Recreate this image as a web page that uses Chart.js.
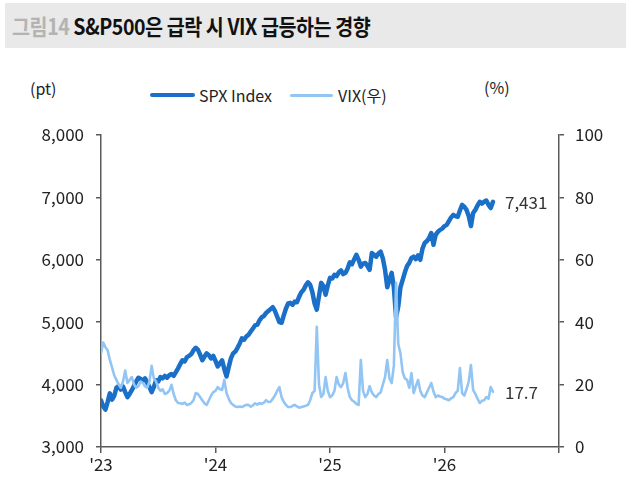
<!DOCTYPE html>
<html>
<head>
<meta charset="utf-8">
<script src="https://cdn.jsdelivr.net/npm/chart.js@4"></script>
<style>
  html, body { margin: 0; padding: 0; background: #fff; }
  body { width: 626px; height: 495px; position: relative; overflow: hidden; font-family: "Noto Sans CJK KR", "Noto Sans", sans-serif; }
  #titlebar { position: absolute; left: 5px; top: 3px; width: 621px; height: 45px; background: #e9e9e9; }
  #title { position: absolute; left: 7px; top: 8px; font-size: 22px; font-weight: 700; white-space: nowrap; transform: scaleX(0.89); transform-origin: left center; letter-spacing: -0.5px; line-height: 28px; }
  #title .num { color: #b3b3b3; }
  #title .main { color: #111; }
  .unit { position: absolute; font-size: 16px; color: #222; line-height: 20px; }
  .leg { position: absolute; font-size: 16px; color: #222; line-height: 20px; white-space: nowrap; }
  .legline { position: absolute; border-radius: 2px; }
  canvas { position: absolute; left: 0; top: 0; }
</style>
</head>
<body>
<div id="titlebar"><div id="title"><span class="num">그림14</span> <span class="main">S&amp;P500은 급락 시 VIX 급등하는 경향</span></div></div>
<div class="unit" style="left:30px; top:78px;">(pt)</div>
<div class="unit" style="left:484px; top:77px;">(%)</div>
<div class="legline" style="left:150px; top:93px; width:45px; height:4px; background:#1a6fc8;"></div>
<div class="leg" style="left:199px; top:85px;">SPX Index</div>
<div class="legline" style="left:290px; top:94px; width:43px; height:3px; background:#92c5f3;"></div>
<div class="leg" style="left:338px; top:85px;">VIX(우)</div>
<canvas id="c" width="626" height="495"></canvas>
<script>
const seriesNames = ['SPX Index', 'VIX(우)'];
const yearLabels = ["'23", "'24", "'25", "'26", ""];
const leftTicks = [3000, 4000, 5000, 6000, 7000, 8000];
const rightTicks = [0, 20, 40, 60, 80, 100];
const spxEndLabel = '7,431';
const vixEndLabel = '17.7';

const spx = [
  3750, 3650, 3600, 3720, 3860, 3760, 3820, 3950, 3980, 3920,
  3970, 3880, 3800, 3850, 3910, 3980, 4050, 4110, 4090, 4060,
  4100, 4030, 3960, 3880, 3960, 4070, 4050, 4120, 4100, 4140,
  4110, 4150, 4170, 4140, 4200, 4260, 4330, 4390, 4370, 4440,
  4460, 4490, 4550, 4590, 4560, 4480, 4390, 4450, 4500, 4470,
  4420, 4460, 4380, 4290, 4340, 4390, 4250, 4130, 4280, 4420,
  4500, 4530, 4590, 4660, 4740, 4720, 4770, 4800, 4850, 4900,
  4950, 4960, 5030, 5080, 5100, 5150, 5180, 5210, 5240, 5180,
  5090, 5000, 4990, 5110, 5220, 5300, 5310, 5280, 5330, 5320,
  5410, 5480, 5520, 5590, 5640, 5600, 5480, 5300, 5200, 5420,
  5630, 5580, 5440, 5590, 5710, 5700, 5760, 5740, 5800, 5830,
  5770, 5790, 5860, 5960, 5930, 6010, 6080, 6000, 5890, 5940,
  5950, 5900, 5840, 6110, 6080, 6050, 6100, 6130, 6020, 5840,
  5560, 5680, 5790, 5560, 5080, 5250, 5560, 5680, 5800, 5900,
  5950, 6030, 6050, 6010, 6070, 6000, 6180, 6270, 6300, 6350,
  6430, 6240, 6400, 6450, 6480, 6500, 6540, 6560, 6620, 6680,
  6720, 6700, 6690, 6790, 6880, 6850, 6800, 6700, 6540, 6750,
  6800, 6870, 6930, 6900, 6930, 6950, 6880, 6830, 6930
];

const vix = [
  30, 33.5, 32, 31, 28, 25.5, 23, 21.5, 20, 19,
  21, 24.5, 20.5, 21.5, 22.4, 20, 19, 19.5, 21, 20.5,
  19.5, 19, 21, 26, 22, 21, 19, 18, 18.5, 17,
  17.3, 18, 19.9, 17, 15, 14.1, 14, 13.8, 14.2, 13.5,
  13.7, 14.1, 15, 17.3, 17, 16, 15, 14, 13.5, 15,
  16.5, 17.6, 18, 19.2, 18.5, 18.3, 21.5, 17.3, 15.5, 14.1,
  13.5, 13, 12.8, 13, 12.8, 13.2, 13.5, 13.5, 12.9, 13.4,
  14, 13.6, 14.1, 13.8, 14.2, 15, 14.4, 14.5, 15.5, 16.5,
  18, 19.2, 16, 14.5, 13.5, 12.8, 12.8, 13.2, 13.5, 13,
  12.6, 12.8, 13, 13.2, 13.5, 15, 17.3, 18, 38.5, 20,
  16, 17, 22.4, 18, 16, 16.5, 18, 22.4, 20, 19.2,
  20.5, 23.7, 19, 16, 15, 14.5, 13.8, 13.5, 27.9, 18,
  16, 17, 19.5, 17.5, 16.5, 16, 17, 17.5, 20, 22.4,
  27.9, 22, 20.5, 26, 52.6, 33, 30, 24, 22, 21.5,
  19, 23.7, 17.3, 19.5, 21.5, 18, 16.5, 16, 17.5, 19,
  20.5, 17.8, 16, 16.5, 16.2, 16, 15.5, 15.3, 15, 15.6,
  16, 17.3, 18, 25.3, 17.3, 16.5, 18.5, 21, 26.3, 18.3,
  17, 15.5, 14.1, 14.8, 15, 16, 15.5, 19.2, 17.7
];

const weeks = spx.map((_, i) => i);

const endLabels = {
  id: 'endLabels',
  afterDatasetsDraw(chart) {
    const ctx = chart.ctx;
    ctx.save();
    ctx.font = '17px "Noto Sans CJK KR", "Noto Sans", sans-serif';
    ctx.fillStyle = '#333';
    ctx.textBaseline = 'middle';
    ctx.textAlign = 'left';
    chart.data.datasets.forEach((ds, i) => {
      const meta = chart.getDatasetMeta(i);
      const pt = meta.data[meta.data.length - 1];
      ctx.fillText(ds.endLabel, pt.x + 12, pt.y + 1);
    });
    ctx.restore();
  }
};

const tickFont = { family: '"Noto Sans CJK KR", "Noto Sans", sans-serif', size: 17 };
const axisColor = '#5a5a5a';

new Chart(document.getElementById('c'), {
  type: 'line',
  data: {
    labels: weeks,
    datasets: [
      {
        label: seriesNames[0], data: spx, yAxisID: 'y', order: 2,
        borderColor: '#1a6fc8', borderWidth: 4.5, pointRadius: 0, tension: 0,
        borderJoinStyle: 'round', borderCapStyle: 'round', endLabel: spxEndLabel
      },
      {
        label: seriesNames[1], data: vix, yAxisID: 'y1', order: 1,
        borderColor: '#92c5f3', borderWidth: 2.6, pointRadius: 0, tension: 0,
        borderJoinStyle: 'round', borderCapStyle: 'round', endLabel: vixEndLabel
      }
    ]
  },
  options: {
    responsive: false,
    animation: false,
    devicePixelRatio: 1,
    layout: { padding: { top: 135, left: 0, right: 0, bottom: 0 } },
    plugins: { legend: { display: false }, tooltip: { enabled: false } },
    scales: {
      x: {
        type: 'linear', min: 0, max: 208,
        afterFit(s) { s.height = 48; },
        afterBuildTicks(s) { s.ticks = yearLabels.map((_, i) => ({ value: i * 52 })); },
        ticks: {
          autoSkip: false, maxRotation: 0, padding: 1, color: '#222', font: tickFont,
          callback: (v) => yearLabels[Math.round(v / 52)]
        },
        grid: { drawOnChartArea: false, drawTicks: true, tickLength: 6, color: axisColor, lineWidth: 1.5 },
        border: { display: true, color: axisColor, width: 1.5 }
      },
      y: {
        position: 'left', min: 3000, max: 8000,
        afterFit(s) { s.width = 101; },
        afterBuildTicks(s) { s.ticks = leftTicks.map(v => ({ value: v })); },
        ticks: { padding: 12, color: '#222', font: tickFont, callback: (v) => v.toLocaleString('en-US') },
        grid: { drawOnChartArea: false, drawTicks: true, tickLength: 5, color: axisColor, lineWidth: 1.5 },
        border: { display: true, color: axisColor, width: 1.5 }
      },
      y1: {
        position: 'right', min: 0, max: 100,
        afterFit(s) { s.width = 67; },
        afterBuildTicks(s) { s.ticks = rightTicks.map(v => ({ value: v })); },
        ticks: { padding: 11, color: '#222', font: tickFont },
        grid: { drawOnChartArea: false, drawTicks: true, tickLength: 5, color: axisColor, lineWidth: 1.5 },
        border: { display: true, color: axisColor, width: 1.5 }
      }
    }
  },
  plugins: [endLabels]
});
</script>
</body>
</html>
